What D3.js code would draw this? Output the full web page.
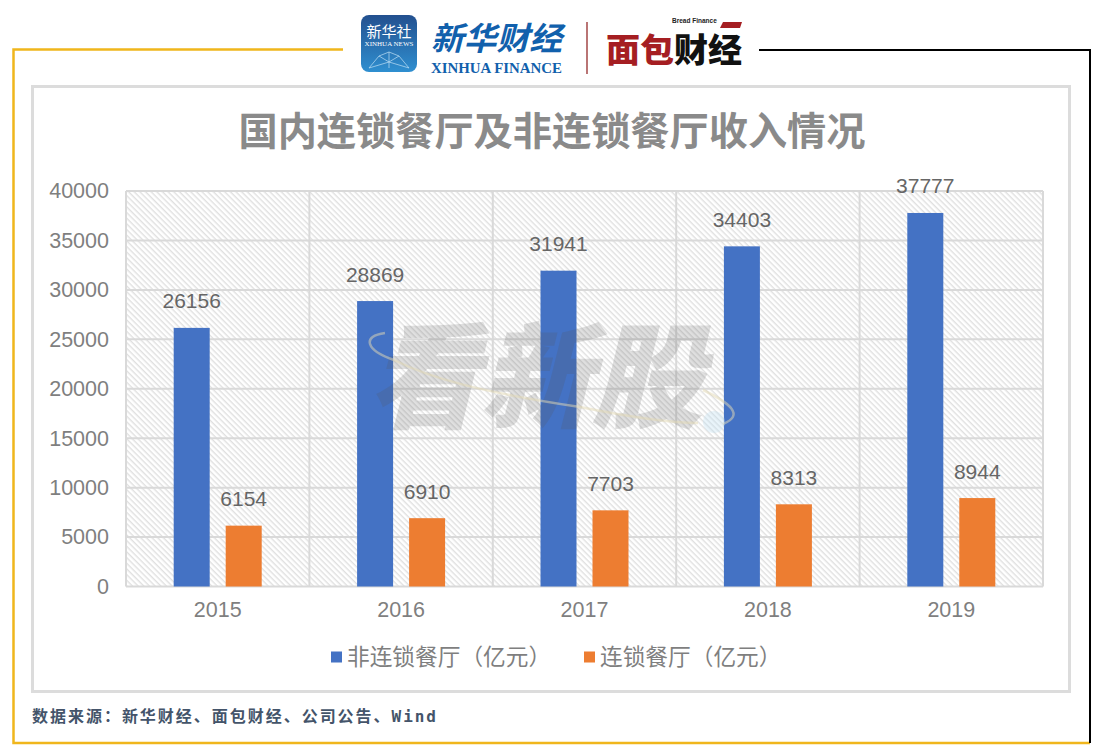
<!DOCTYPE html>
<html lang="zh"><head><meta charset="utf-8">
<script src="https://cdnjs.cloudflare.com/ajax/libs/d3/7.8.5/d3.min.js"></script>
<style>html,body{margin:0;padding:0;background:#fff}svg{display:block}</style></head>
<body><svg id="c" width="1103" height="756"></svg>
<script>
const years = ["2015","2016","2017","2018","2019"];
const nonChain = [26156,28869,31941,34403,37777];
const chain = [6154,6910,7703,8313,8944];
const seriesNames = ["非连锁餐厅（亿元）","连锁餐厅（亿元）"];
const seriesColors = ["#4472c4","#ed7d31"];
const yTicks = [0,5000,10000,15000,20000,25000,30000,35000,40000];
const chartTitle = "国内连锁餐厅及非连锁餐厅收入情况";
const sourceText = "数据来源：新华财经、面包财经、公司公告、Wind";

const CJK = '"Noto Sans CJK SC","Noto Sans",sans-serif';
const LAT = '"Liberation Sans",Arial,sans-serif';
const svg = d3.select("#c");
const defs = svg.append("defs");
const hatch = defs.append("pattern").attr("id","hatch").attr("width",4).attr("height",4)
  .attr("patternUnits","userSpaceOnUse").attr("patternTransform","rotate(45)");
hatch.append("rect").attr("width",4).attr("height",4).attr("fill","#fff");
hatch.append("rect").attr("width",4).attr("height",1.4).attr("fill","#e0e0e0");
const grad = defs.append("linearGradient").attr("id","lg").attr("x1",0).attr("y1",0).attr("x2",0).attr("y2",1);
grad.append("stop").attr("offset",0).attr("stop-color","#23508f");
grad.append("stop").attr("offset",1).attr("stop-color","#2f8fd0");

// outer frame
const frame = svg.append("g").attr("fill","none");
frame.append("path").attr("d","M343,49.5H13.5V743H1090").attr("stroke","#f0b61c").attr("stroke-width",2.5);
frame.append("path").attr("d","M759,50H1090V743").attr("stroke","#000").attr("stroke-width",2);
svg.append("rect").attr("x",32.5).attr("y",86.5).attr("width",1037).attr("height",605)
  .attr("fill","#fff").attr("stroke","#dcdcdc").attr("stroke-width",3);

// header logos
const logo = svg.append("g");
logo.append("rect").attr("x",361).attr("y",15).attr("width",56).attr("height",57).attr("rx",8).attr("fill","url(#lg)");
logo.append("text").attr("x",389).attr("y",37).attr("text-anchor","middle").attr("fill","#fff")
  .attr("font-family",CJK).attr("font-size",15).text("新华社");
logo.append("text").attr("x",389).attr("y",46).attr("text-anchor","middle").attr("fill","#fff")
  .attr("font-family",'"Liberation Serif",serif').attr("font-size",7).text("XINHUA NEWS");
logo.append("path").attr("d","M369,68L379,56L389,52L399,56L409,68M379,56L389,62L399,56M389,52V68M369,68L389,62L409,68")
  .attr("stroke","#bfe0f5").attr("stroke-width",.7).attr("fill","none");
logo.append("text").attr("x",431).attr("y",50).attr("fill","#1160ac")
  .attr("font-family",CJK).attr("font-weight",700).attr("font-style","italic").attr("font-size",32)
  .attr("textLength",131).attr("lengthAdjust","spacingAndGlyphs").text("新华财经");
logo.append("text").attr("x",431).attr("y",72.5).attr("fill","#1160ac")
  .attr("font-family",'"Liberation Serif",serif').attr("font-weight",700).attr("font-size",14.5)
  .attr("textLength",131).attr("lengthAdjust","spacingAndGlyphs").text("XINHUA FINANCE");
logo.append("line").attr("x1",587).attr("x2",587).attr("y1",22).attr("y2",74).attr("stroke","#9c3a3a").attr("stroke-width",1.4);
logo.append("text").attr("x",606).attr("y",62).attr("fill","#a51e22")
  .attr("font-family",CJK).attr("font-weight",900).attr("font-size",33)
  .attr("textLength",68).attr("lengthAdjust","spacingAndGlyphs").text("面包");
logo.append("text").attr("x",674).attr("y",62).attr("fill","#111")
  .attr("font-family",CJK).attr("font-weight",900).attr("font-size",33)
  .attr("textLength",68).attr("lengthAdjust","spacingAndGlyphs").text("财经");
logo.append("text").attr("x",672).attr("y",23).attr("fill","#222")
  .attr("font-family",LAT).attr("font-size",6.5).attr("font-weight",700).text("Bread Finance");
logo.append("path").attr("d","M723,22H742L740,28H720Z").attr("fill","#a51e22");

// title
svg.append("text").attr("x",552).attr("y",145).attr("text-anchor","middle").attr("fill","#8a8a8a")
  .attr("font-family",CJK).attr("font-weight",700).attr("font-size",39.2).text(chartTitle);

// scales
const x0 = d3.scaleBand().domain(years).range([126,1043]);
const x1 = d3.scaleBand().domain([0,1]).range([x0.bandwidth()/2-44,x0.bandwidth()/2+44]).paddingInner(16/52);
const y = d3.scaleLinear().domain([0,40000]).range([586.5,191]);

// plot background
svg.append("rect").attr("x",126).attr("y",191).attr("width",917).attr("height",395.5).attr("fill","url(#hatch)");
const grid = svg.append("g").attr("stroke","#d9d9d9").attr("stroke-width",2);
grid.selectAll("line.h").data(yTicks).join("line").attr("class","h")
  .attr("x1",126).attr("x2",1043).attr("y1",d=>y(d)).attr("y2",d=>y(d));
grid.selectAll("line.v").data(years.concat("end")).join("line").attr("class","v")
  .attr("x1",d=>d==="end"?1043:x0(d)).attr("x2",d=>d==="end"?1043:x0(d)).attr("y1",191).attr("y2",586.5);

// bars
const rows = years.map((yr,i)=>({yr,vals:[nonChain[i],chain[i]]}));
const groups = svg.selectAll("g.yr").data(rows).join("g").attr("class","yr")
  .attr("transform",d=>`translate(${x0(d.yr)},0)`);
groups.selectAll("rect").data(d=>d.vals).join("rect")
  .attr("x",(d,i)=>x1(i)).attr("width",x1.bandwidth())
  .attr("y",d=>y(d)).attr("height",d=>y(0)-y(d)).attr("fill",(d,i)=>seriesColors[i]);
groups.selectAll("text").data(d=>d.vals).join("text")
  .attr("x",(d,i)=>x1(i)+x1.bandwidth()/2).attr("y",d=>y(d)-19.5)
  .attr("text-anchor","middle").attr("fill","#666").attr("font-family",LAT).attr("font-size",21).text(d=>d);

// watermark
const wm = svg.append("g").attr("pointer-events","none");
wm.append("text").attr("transform","translate(368,419) skewX(-14)").attr("fill","#555").attr("fill-opacity",.19)
  .attr("font-family",CJK).attr("font-weight",900).attr("font-size",114)
  .attr("textLength",335).attr("lengthAdjust","spacingAndGlyphs").text("看新股");
wm.append("path").attr("d","M385,333C362,336,365,350,394,360C430,378,480,392,580,407C630,417,670,423,698,423")
  .attr("fill","none").attr("stroke","#e4d9b4").attr("stroke-opacity",.5).attr("stroke-width",2.5);
wm.append("path").attr("d","M703,390C730,403,745,415,723,424").attr("fill","none").attr("stroke","#e4d9b4").attr("stroke-opacity",.5).attr("stroke-width",2.5);
wm.append("circle").attr("cx",714).attr("cy",422).attr("r",11).attr("fill","#bfe0f0").attr("fill-opacity",.35);

// axes
const yAxis = svg.append("g").attr("transform","translate(126,0)")
  .call(d3.axisLeft(y).tickValues(yTicks).tickSize(0).tickPadding(17).tickFormat(d3.format("d")));
const xAxis = svg.append("g").attr("transform","translate(0,586.5)")
  .call(d3.axisBottom(x0).tickSize(0).tickPadding(15));
[yAxis,xAxis].forEach(a=>{a.select(".domain").remove();
  a.selectAll("text").attr("fill","#7f7f7f").attr("font-family",LAT).attr("font-size",21.5);});

// legend
const legendX = [331,584];
const legend = svg.selectAll("g.lg").data(seriesNames).join("g").attr("class","lg")
  .attr("transform",(d,i)=>`translate(${legendX[i]},657)`);
legend.append("rect").attr("y",-5.5).attr("width",11).attr("height",11).attr("fill",(d,i)=>seriesColors[i]);
legend.append("text").attr("x",16).attr("y",8).attr("fill","#7f7f7f").attr("font-family",CJK).attr("font-size",22.7).text(d=>d);

// source
svg.append("text").attr("x",32).attr("y",722).attr("fill","#44546a")
  .attr("font-family",'"DejaVu Sans Mono","Noto Sans CJK SC",monospace').attr("font-weight",700).attr("font-size",16)
  .attr("textLength",404).attr("lengthAdjust","spacing").text(sourceText);
</script></body></html>
